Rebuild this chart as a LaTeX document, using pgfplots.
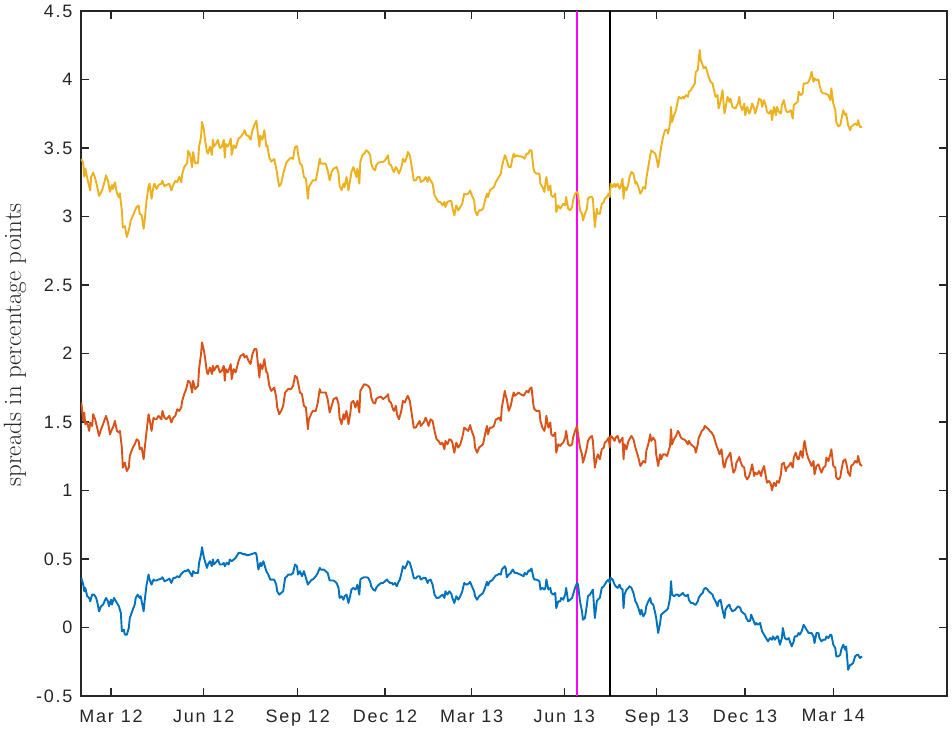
\documentclass[border=0pt]{standalone}
\usepackage{fontspec}
\usepackage{pgfplots}
\pgfplotsset{compat=1.18}
\newfontfamily\ticksans[LetterSpace=10]{Liberation Sans}
\definecolor{axgray}{HTML}{262626}
\definecolor{sblue}{rgb}{0,0.447,0.741}
\definecolor{sorange}{rgb}{0.850,0.325,0.098}
\definecolor{syellow}{rgb}{0.929,0.694,0.125}
\definecolor{evmag}{rgb}{1,0,1}
\begin{document}
\begin{tikzpicture}
% x axis: days counted from 1 March 2012
\begin{axis}[
  name=ax,
  scale only axis,
  width=866pt, height=685pt,
  xmin=-30.3, xmax=844.9,
  ymin=-0.5, ymax=4.5,
  ytick={-0.5,0,0.5,1,1.5,2,2.5,3,3.5,4,4.5},
  xtick={0,93.7,188.7,276.9,364.5,458.1,551.5,640.7,730},
  xticklabels={Mar 12,Jun 12,Sep 12,Dec 12,Mar 13,Jun 13,Sep 13,Dec 13,Mar 14},
  tick align=inside,
  major tick length=8.5pt,
  axis line style={axgray, line width=1.5pt},
  every tick/.style={axgray, line width=1.5pt},
  tick label style={font=\ticksans\fontsize{18}{21}\selectfont, text=axgray},
  /pgf/number format/assume math mode=true,
  yticklabel style={xshift=-5pt},
  xticklabel style={yshift=-10pt},
  ylabel={spreads in percentage points},
  ylabel style={font=\fontsize{25}{29}\selectfont, text=axgray,
    at={(axis description cs:-0.0763,0.5125)}, anchor=center},
  every axis plot/.append style={no markers, line width=1.9pt, line join=round},
]
% event markers
\addplot[evmag, line width=2pt] coordinates {(470.6,-0.5) (470.6,4.5)};
\addplot[black, line width=2pt] coordinates {(504.6,-0.5) (504.6,4.5)};

% lower series
\addplot[sblue] coordinates {
(-30,0.362) (-28,0.313) (-27,0.264) (-26,0.289) (-24,0.228) (-22,0.216) (-21,0.191) (-19,0.240) (-17,0.240) (-15,0.216) (-14,0.191) (-12,0.118) (-10,0.155) (-8,0.167) (-5,0.216) (-3,0.191) (-2,0.155) (0,0.203) (1,0.167) (3,0.216) (6,0.179) (8,0.155) (10,0.106) (11,-0.028) (13,-0.016) (14,-0.053) (16,-0.053) (18,-0.004) (19,0.069) (22,0.130) (24,0.167) (25,0.216) (27,0.240) (29,0.216) (30,0.228) (33,0.118) (34,0.191) (36,0.313) (38,0.386) (39,0.350) (41,0.313) (43,0.350) (44,0.343) (46,0.343) (48,0.350) (51,0.357) (52,0.367) (54,0.338) (56,0.343) (59,0.357) (61,0.325) (63,0.362) (65,0.362) (67,0.374) (69,0.367) (71,0.391) (72,0.398) (74,0.411) (76,0.411) (78,0.423) (80,0.398) (82,0.374) (83,0.411) (85,0.398) (88,0.398) (89,0.472) (91,0.533) (92,0.586) (94,0.508) (95,0.484) (97,0.435) (98,0.460) (100,0.484) (102,0.447) (103,0.496) (104,0.460) (107,0.484) (108,0.496) (110,0.460) (112,0.460) (114,0.472) (115,0.447) (117,0.472) (119,0.460) (120,0.496) (122,0.484) (124,0.496) (126,0.508) (129,0.545) (131,0.545) (134,0.533) (135,0.538) (137,0.528) (139,0.528) (141,0.533) (143,0.538) (146,0.545) (147,0.533) (149,0.423) (151,0.472) (152,0.447) (154,0.484) (156,0.435) (157,0.411) (159,0.386) (161,0.350) (162,0.350) (165,0.350) (167,0.313) (168,0.264) (170,0.240) (172,0.252) (174,0.264) (176,0.362) (178,0.374) (179,0.386) (182,0.386) (184,0.398)
(186,0.460) (188,0.447) (189,0.386) (191,0.411) (193,0.374) (195,0.411) (197,0.362) (199,0.313) (200,0.325) (203,0.350) (204,0.350) (207,0.374) (209,0.398) (211,0.435) (212,0.423) (215,0.423) (217,0.411) (219,0.398) (221,0.343) (223,0.343) (225,0.343) (228,0.325) (230,0.289) (231,0.216) (233,0.228) (235,0.203) (236,0.228) (238,0.240) (240,0.179) (242,0.240) (243,0.277) (245,0.289) (247,0.277) (248,0.289) (249,0.313) (251,0.240) (252,0.350) (254,0.362) (256,0.367) (258,0.367) (260,0.362) (262,0.333) (263,0.301) (265,0.277) (267,0.269) (268,0.289) (270,0.308) (273,0.325) (275,0.325) (277,0.338) (279,0.350) (280,0.338) (282,0.325) (284,0.325) (285,0.313) (287,0.325) (289,0.301) (290,0.325) (292,0.350) (294,0.411) (295,0.447) (297,0.430) (299,0.460) (300,0.484) (302,0.472) (304,0.423) (306,0.362) (308,0.357) (310,0.374) (312,0.374) (313,0.350) (316,0.362) (318,0.362) (320,0.325) (321,0.343) (323,0.350) (325,0.313) (327,0.240) (329,0.216) (331,0.216) (333,0.228) (335,0.240) (337,0.216) (338,0.264) (340,0.240) (342,0.264) (344,0.245) (345,0.216) (347,0.179) (349,0.228) (351,0.203) (353,0.228) (355,0.264) (357,0.325) (359,0.313) (361,0.318) (363,0.333) (364,0.313) (367,0.264) (368,0.228) (370,0.203) (372,0.228) (374,0.240) (376,0.252) (378,0.289) (380,0.333) (381,0.308) (383,0.338) (385,0.343) (387,0.362) (389,0.381) (390,0.381) (392,0.391) (394,0.386) (395,0.423) (398,0.447) (399,0.430) (400,0.367) (402,0.386) (404,0.398) (406,0.423) (407,0.411)
(408,0.399) (410,0.399) (412,0.391) (414,0.386) (417,0.374) (418,0.399) (420,0.386) (422,0.416) (423,0.411) (425,0.430) (427,0.362) (428,0.350) (430,0.350) (433,0.338) (434,0.277) (436,0.289) (438,0.277) (439,0.289) (440,0.350) (442,0.277) (444,0.289) (445,0.252) (447,0.240) (449,0.252) (450,0.142) (452,0.191) (454,0.191) (455,0.216) (457,0.203) (459,0.240) (460,0.289) (462,0.191) (464,0.203) (466,0.216) (467,0.240) (469,0.289) (471,0.325) (472,0.313) (474,0.191) (476,0.118) (477,0.057) (479,0.069) (481,0.167) (482,0.228) (484,0.240) (486,0.264) (487,0.277) (489,0.069) (491,0.191) (492,0.203) (494,0.216) (496,0.289) (498,0.301) (499,0.313) (501,0.338) (503,0.350) (504,0.325) (505,0.362) (507,0.350) (509,0.313) (510,0.301) (512,0.289) (514,0.313) (515,0.289) (517,0.277) (518,0.142) (519,0.240) (521,0.277) (523,0.289) (524,0.301) (526,0.289) (528,0.252) (530,0.191) (531,0.179) (533,0.142) (535,0.094) (536,0.130) (538,0.081) (540,0.106) (541,0.155) (543,0.191) (545,0.216) (546,0.179) (548,0.167) (550,0.106) (551,0.069) (553,-0.040) (555,0.033) (556,0.094) (558,0.106) (560,0.118) (562,0.130) (563,0.142) (565,0.216) (566,0.338) (567,0.240) (569,0.228) (571,0.240) (573,0.240) (574,0.228) (576,0.240) (578,0.252) (579,0.240) (581,0.228) (583,0.240) (584,0.203) (586,0.179) (588,0.179) (590,0.167) (591,0.167) (593,0.191) (594,0.216) (596,0.240) (598,0.252) (599,0.277) (601,0.289) (603,0.277) (604,0.264) (606,0.252) (608,0.240) (609,0.216) (611,0.191) (613,0.155) (614,0.191) (616,0.203) (618,0.130) (620,0.069) (621,0.130) (623,0.155) (625,0.167) (626,0.142) (628,0.118)
(631,0.130) (632,0.142) (634,0.155) (636,0.142) (637,0.118) (639,0.106) (641,0.094) (642,0.069) (644,0.045) (646,0.050) (647,0.094) (649,0.057) (651,0.020) (652,0.033) (654,0.020) (656,0.033) (658,-0.028) (659,-0.040) (661,-0.065) (663,-0.089) (664,-0.101) (666,-0.077) (668,-0.089) (669,-0.065) (671,-0.089) (673,-0.065) (674,-0.065) (676,-0.126) (678,-0.077) (679,-0.004) (681,-0.077) (683,-0.089) (685,-0.077) (686,-0.101) (688,-0.138) (690,-0.101) (691,-0.065) (693,-0.065) (695,-0.040) (696,-0.053) (698,-0.028) (700,0.020) (701,0.008) (703,-0.016) (705,-0.040) (706,-0.040) (708,-0.040) (710,-0.065) (711,-0.114) (713,-0.040) (715,-0.040) (716,-0.077) (718,-0.101) (720,-0.089) (722,-0.089) (723,-0.065) (725,-0.077) (727,-0.053) (728,-0.053) (730,-0.126) (732,-0.150) (733,-0.211) (735,-0.211) (737,-0.199) (738,-0.162) (740,-0.126) (742,-0.162) (743,-0.138) (745,-0.309) (747,-0.272) (748,-0.272) (750,-0.260) (752,-0.211) (754,-0.199) (755,-0.199) (757,-0.223) (759,-0.211)
};

% middle series
\addplot[sorange] coordinates {
(-30,1.642) (-28,1.508) (-27,1.569) (-26,1.484) (-24,1.496) (-22,1.435) (-21,1.496) (-19,1.471) (-18,1.557) (-16,1.520) (-14,1.459) (-12,1.398) (-10,1.447) (-8,1.484) (-5,1.545) (-3,1.496) (-1,1.410) (1,1.447) (2,1.459) (4,1.508) (6,1.435) (8,1.423) (9,1.435) (11,1.313) (12,1.167) (14,1.203) (16,1.142) (18,1.167) (19,1.252) (22,1.313) (24,1.337) (26,1.374) (28,1.362) (29,1.301) (31,1.313) (33,1.228) (34,1.301) (36,1.435) (38,1.557) (39,1.520) (41,1.435) (43,1.532) (44,1.520) (46,1.520) (48,1.545) (51,1.520) (52,1.581) (54,1.532) (56,1.520) (59,1.545) (61,1.496) (63,1.532) (65,1.545) (67,1.593) (69,1.581) (71,1.606) (72,1.654) (74,1.703) (76,1.740) (78,1.801) (80,1.788) (82,1.715) (83,1.801) (85,1.740) (88,1.764) (89,1.886) (91,1.996) (92,2.081) (94,2.020) (95,1.971) (97,1.862) (98,1.850) (100,1.898) (102,1.850) (103,1.910) (104,1.874) (107,1.910) (108,1.910) (110,1.862) (112,1.874) (114,1.910) (115,1.801) (116,1.886) (118,1.862) (120,1.898) (121,1.923) (122,1.813) (124,1.886) (126,1.862) (129,1.947) (131,1.983) (134,1.996) (135,1.971) (137,1.983) (139,1.947) (141,1.923) (143,1.996) (145,2.032) (147,2.032) (148,1.959) (150,1.825) (151,1.923) (153,1.886) (155,1.959) (157,1.862) (158,1.862) (160,1.764) (162,1.727) (165,1.752) (167,1.679) (168,1.606) (170,1.557) (172,1.581) (174,1.618) (176,1.715) (179,1.740) (182,1.740) (184,1.764)
(186,1.837) (188,1.825) (189,1.788) (191,1.715) (193,1.703) (195,1.618) (197,1.606) (199,1.447) (200,1.520) (203,1.569) (204,1.581) (207,1.581) (209,1.642) (211,1.740) (212,1.715) (215,1.715) (217,1.715) (219,1.667) (221,1.569) (223,1.618) (225,1.667) (228,1.679) (230,1.630) (231,1.532) (233,1.484) (235,1.557) (236,1.520) (238,1.581) (240,1.484) (242,1.569) (243,1.642) (245,1.654) (247,1.606) (248,1.630) (249,1.654) (251,1.569) (252,1.727) (254,1.752) (256,1.776) (258,1.771) (260,1.764) (262,1.740) (263,1.679) (265,1.642) (267,1.635) (268,1.667) (270,1.679) (273,1.684) (275,1.667) (277,1.679) (279,1.691) (280,1.703) (281,1.654) (283,1.642) (285,1.593) (286,1.581) (288,1.618) (289,1.557) (291,1.520) (293,1.569) (294,1.606) (295,1.654) (297,1.642) (299,1.679) (300,1.691) (302,1.654) (304,1.557) (306,1.459) (308,1.459) (310,1.484) (312,1.508) (313,1.471) (316,1.496) (318,1.532) (320,1.496) (321,1.471) (323,1.520) (325,1.508) (327,1.435) (329,1.374) (331,1.362) (333,1.337) (335,1.349) (337,1.301) (338,1.362) (340,1.337) (342,1.374) (344,1.366) (345,1.349) (347,1.276) (349,1.349) (351,1.313) (353,1.337) (355,1.386) (357,1.459) (359,1.447) (361,1.435) (363,1.478) (364,1.447) (367,1.386) (368,1.313) (370,1.276) (372,1.313) (374,1.325) (376,1.337) (378,1.410) (380,1.471) (381,1.410) (383,1.459) (385,1.459) (387,1.471) (389,1.520) (390,1.520) (392,1.532) (394,1.508) (395,1.606) (398,1.727) (399,1.691) (400,1.667) (402,1.581) (404,1.618) (406,1.691) (407,1.715)
(408,1.691) (410,1.703) (412,1.715) (414,1.703) (417,1.691) (418,1.703) (420,1.727) (422,1.715) (423,1.740) (425,1.752) (427,1.618) (428,1.593) (430,1.581) (433,1.581) (434,1.508) (436,1.459) (438,1.435) (439,1.471) (440,1.545) (442,1.459) (444,1.496) (445,1.410) (447,1.398) (449,1.423) (450,1.276) (452,1.337) (454,1.325) (455,1.337) (457,1.349) (459,1.386) (460,1.435) (462,1.337) (464,1.325) (466,1.337) (467,1.386) (469,1.435) (471,1.471) (472,1.410) (474,1.313) (476,1.264) (477,1.203) (479,1.252) (481,1.313) (482,1.362) (484,1.386) (486,1.398) (487,1.362) (489,1.167) (491,1.240) (492,1.264) (494,1.228) (496,1.301) (498,1.313) (499,1.349) (501,1.362) (503,1.386) (504,1.313) (505,1.398) (507,1.386) (509,1.362) (510,1.386) (512,1.398) (514,1.349) (515,1.362) (517,1.386) (518,1.228) (519,1.337) (521,1.301) (523,1.362) (524,1.374) (526,1.398) (528,1.374) (530,1.313) (531,1.289) (533,1.240) (535,1.179) (536,1.191) (538,1.215) (540,1.203) (541,1.289) (543,1.337) (545,1.410) (546,1.362) (548,1.386) (550,1.362) (551,1.264) (553,1.179) (555,1.264) (556,1.228) (558,1.264) (560,1.264) (562,1.252) (563,1.276) (565,1.325) (566,1.447) (567,1.337) (569,1.374) (571,1.398) (573,1.435) (574,1.423) (576,1.386) (578,1.374) (579,1.374) (581,1.362) (583,1.337) (584,1.362) (586,1.337) (588,1.325) (590,1.313) (591,1.276) (593,1.337) (594,1.386) (595,1.398) (597,1.435) (599,1.447) (600,1.471) (602,1.459) (604,1.447) (605,1.435) (607,1.423) (609,1.398) (610,1.374) (612,1.325) (614,1.289) (615,1.264) (617,1.301) (619,1.179) (620,1.167) (622,1.228) (624,1.252) (626,1.276) (627,1.215) (629,1.130)
(631,1.154) (632,1.203) (634,1.228) (635,1.245) (636,1.215) (638,1.179) (640,1.167) (641,1.106) (643,1.081) (645,1.106) (646,1.130) (648,1.191) (650,1.106) (651,1.130) (653,1.118) (655,1.142) (657,1.106) (658,1.142) (660,1.179) (662,1.094) (663,1.057) (665,1.069) (667,1.045) (668,1.001) (670,1.057) (672,1.033) (673,1.069) (675,1.057) (677,1.118) (678,1.191) (680,1.203) (682,1.142) (683,1.167) (685,1.179) (687,1.203) (689,1.167) (690,1.240) (692,1.276) (694,1.228) (695,1.228) (697,1.289) (699,1.240) (700,1.325) (701,1.362) (703,1.276) (705,1.228) (706,1.215) (708,1.179) (710,1.215) (711,1.118) (713,1.179) (715,1.191) (716,1.167) (718,1.130) (720,1.167) (722,1.179) (723,1.240) (725,1.215) (727,1.264) (728,1.301) (730,1.179) (732,1.167) (733,1.094) (735,1.081) (737,1.094) (738,1.142) (740,1.215) (742,1.228) (743,1.203) (745,1.130) (747,1.106) (748,1.179) (750,1.191) (752,1.215) (754,1.203) (755,1.252) (757,1.191) (759,1.179)
};

% upper series
\addplot[syellow] coordinates {
(-30,3.42) (-28,3.39) (-27,3.29) (-26,3.35) (-24,3.28) (-21,3.19) (-20,3.29) (-18,3.32) (-16,3.28) (-14,3.22) (-12,3.15) (-9,3.19) (-7,3.24) (-5,3.30) (-3,3.26) (-1,3.18) (1,3.23) (2,3.20) (4,3.25) (6,3.17) (8,3.14) (9,3.17) (11,3.04) (12,2.92) (14,2.93) (16,2.85) (18,2.90) (20,2.97) (23,3.02) (24,3.04) (26,3.07) (28,3.08) (29,3.02) (31,3.01) (33,2.91) (34,2.97) (36,3.12) (38,3.22) (39,3.24) (41,3.13) (43,3.22) (44,3.24) (46,3.20) (48,3.23) (51,3.24) (52,3.26) (54,3.22) (56,3.23) (59,3.24) (61,3.19) (63,3.23) (65,3.26) (67,3.25) (69,3.29) (71,3.25) (72,3.31) (74,3.36) (77,3.39) (78,3.48) (80,3.45) (82,3.36) (83,3.47) (85,3.39) (88,3.39) (89,3.51) (91,3.58) (92,3.69) (94,3.63) (95,3.56) (97,3.47) (98,3.46) (100,3.51) (102,3.45) (103,3.56) (104,3.51) (107,3.54) (108,3.56) (110,3.50) (112,3.51) (114,3.56) (115,3.43) (116,3.53) (118,3.51) (120,3.54) (121,3.57) (122,3.45) (124,3.52) (126,3.50) (129,3.57) (131,3.58) (134,3.61) (135,3.63) (137,3.59) (139,3.59) (141,3.56) (143,3.63) (145,3.67) (147,3.70) (148,3.63) (150,3.51) (151,3.59) (153,3.56) (155,3.63) (157,3.51) (158,3.52) (160,3.43) (162,3.40) (165,3.42) (167,3.35) (169,3.26) (170,3.22) (172,3.24) (174,3.31) (177,3.39) (179,3.41) (182,3.43) (184,3.42)
(186,3.508) (188,3.513) (189,3.459) (191,3.386) (193,3.374) (195,3.288) (197,3.276) (199,3.130) (200,3.215) (203,3.252) (204,3.264) (207,3.264) (209,3.337) (211,3.422) (212,3.386) (215,3.386) (217,3.386) (219,3.337) (221,3.264) (223,3.325) (225,3.349) (228,3.361) (230,3.313) (231,3.227) (233,3.191) (235,3.240) (236,3.215) (238,3.288) (240,3.191) (242,3.276) (243,3.325) (245,3.361) (247,3.313) (248,3.288) (249,3.349) (251,3.240) (252,3.398) (254,3.447) (256,3.459) (258,3.483) (260,3.471) (262,3.447) (263,3.386) (265,3.349) (267,3.337) (268,3.374) (270,3.391) (273,3.398) (275,3.398) (277,3.410) (279,3.435) (280,3.447) (281,3.386) (283,3.374) (285,3.337) (286,3.325) (288,3.361) (289,3.349) (291,3.313) (293,3.349) (294,3.374) (295,3.422) (297,3.398) (299,3.435) (300,3.471) (302,3.447) (304,3.361) (306,3.264) (308,3.264) (310,3.288) (312,3.288) (313,3.252) (316,3.264) (318,3.288) (320,3.252) (321,3.288) (323,3.264) (325,3.240) (327,3.154) (329,3.130) (331,3.106) (333,3.106) (335,3.081) (337,3.106) (338,3.069) (340,3.106) (342,3.113) (344,3.113) (345,3.069) (347,3.008) (349,3.081) (351,3.045) (353,3.069) (355,3.093) (357,3.166) (359,3.161) (361,3.166) (363,3.191) (364,3.166) (367,3.118) (368,3.045) (370,3.008) (372,3.045) (374,3.045) (376,3.057) (378,3.118) (380,3.166) (381,3.142) (383,3.191) (385,3.203) (387,3.215) (389,3.252) (390,3.264) (392,3.288) (394,3.313) (395,3.361) (398,3.447) (399,3.435) (400,3.410) (402,3.361) (404,3.361) (406,3.435) (407,3.459)
(408,3.435) (410,3.447) (412,3.439) (414,3.439) (417,3.430) (418,3.422) (420,3.459) (422,3.459) (423,3.483) (425,3.483) (427,3.349) (428,3.325) (430,3.313) (433,3.313) (434,3.240) (436,3.215) (438,3.179) (439,3.240) (440,3.288) (442,3.191) (444,3.227) (445,3.154) (447,3.142) (449,3.166) (450,3.032) (452,3.081) (454,3.057) (455,3.069) (457,3.093) (459,3.081) (460,3.142) (462,3.057) (464,3.045) (466,3.069) (467,3.118) (469,3.166) (471,3.179) (472,3.166) (474,3.045) (476,3.020) (477,2.971) (479,3.020) (481,3.057) (482,3.130) (484,3.142) (486,3.142) (487,3.130) (489,2.923) (491,3.057) (492,3.020) (494,3.020) (496,3.093) (498,3.106) (499,3.130) (501,3.142) (503,3.166) (504,3.142) (505,3.240) (507,3.215) (509,3.240) (510,3.215) (512,3.240) (514,3.203) (515,3.215) (517,3.276) (518,3.130) (519,3.215) (521,3.191) (523,3.240) (524,3.288) (526,3.325) (528,3.313) (530,3.240) (531,3.252) (533,3.215) (535,3.166) (536,3.179) (538,3.215) (540,3.203) (541,3.276) (543,3.361) (545,3.447) (546,3.483) (548,3.471) (550,3.459) (551,3.435) (553,3.361) (555,3.459) (556,3.508) (558,3.581) (560,3.630) (562,3.630) (563,3.605) (565,3.678) (566,3.800) (567,3.690) (569,3.739) (571,3.776) (573,3.849) (574,3.873) (576,3.861) (578,3.873) (579,3.861) (581,3.886) (583,3.873) (584,3.910) (586,3.922) (588,3.947) (590,3.971) (591,4.056) (593,4.069) (594,4.142) (595,4.215) (596,4.142) (598,4.105) (599,4.081) (601,4.093) (603,4.044) (604,4.020) (606,3.983) (608,3.971) (609,3.935) (611,3.873) (613,3.886) (614,3.788) (616,3.837) (618,3.922) (620,3.752) (621,3.788) (623,3.873) (625,3.837) (626,3.861) (628,3.800)
(631,3.788) (632,3.800) (634,3.837) (635,3.873) (636,3.813) (638,3.776) (640,3.825) (641,3.739) (643,3.800) (645,3.752) (646,3.764) (648,3.825) (650,3.788) (651,3.752) (653,3.800) (655,3.861) (657,3.849) (658,3.800) (660,3.849) (662,3.800) (663,3.764) (665,3.752) (667,3.776) (668,3.703) (670,3.800) (672,3.739) (673,3.800) (675,3.764) (677,3.752) (678,3.813) (680,3.849) (682,3.776) (683,3.764) (685,3.764) (687,3.776) (689,3.715) (690,3.813) (692,3.825) (694,3.837) (695,3.910) (697,3.886) (699,3.898) (700,3.971) (702,3.971) (704,3.976) (705,3.983) (707,4.020) (708,4.056) (710,3.983) (711,4.008) (713,3.995) (715,4.000) (716,3.959) (718,3.910) (720,3.898) (722,3.898) (723,3.893) (725,3.886) (727,3.849) (728,3.935) (730,3.825) (732,3.776) (733,3.690) (735,3.659) (737,3.666) (738,3.703) (740,3.776) (742,3.739) (743,3.752) (745,3.666) (747,3.630) (748,3.654) (750,3.666) (752,3.678) (754,3.666) (755,3.703) (757,3.654) (759,3.654)
};
\end{axis}
% page frame around the axis
\path ([shift={(-81pt,-40pt)}]ax.south west) rectangle ([shift={(5pt,11pt)}]ax.north east);
\end{tikzpicture}
\end{document}
